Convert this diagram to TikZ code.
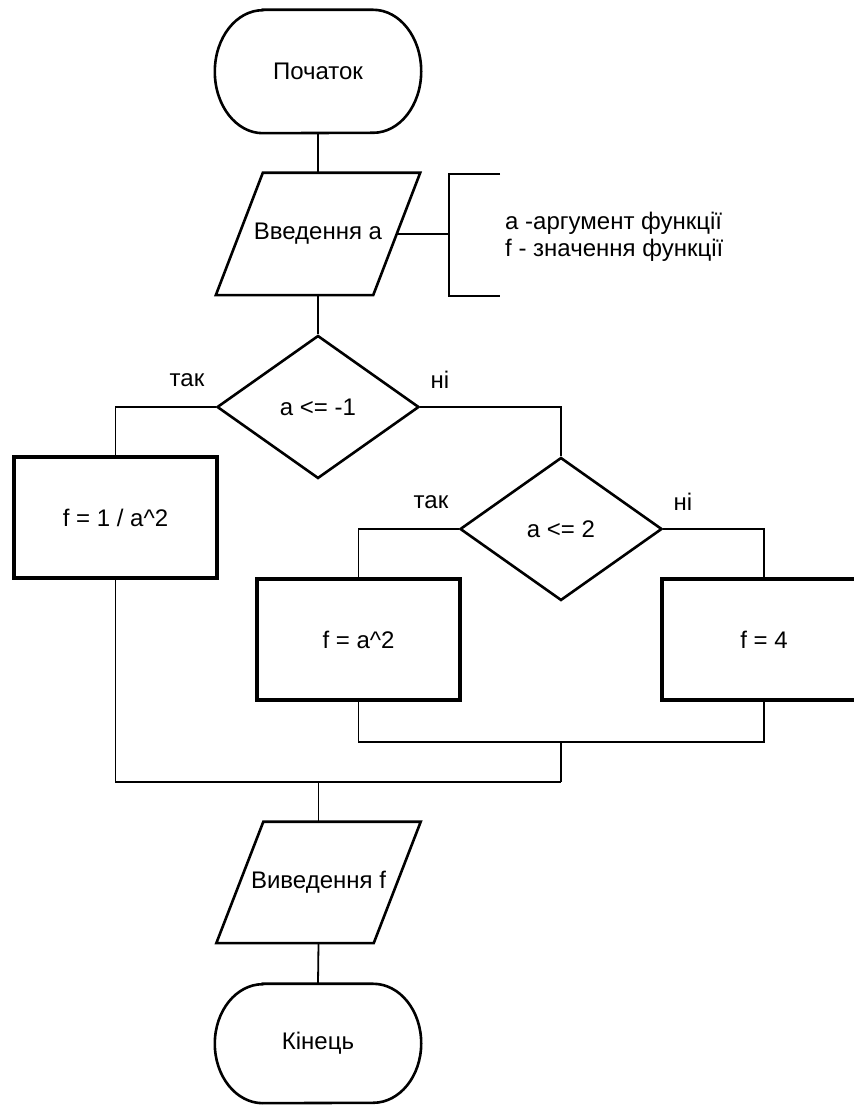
\documentclass[tikz,border=0pt]{standalone}
\usepackage{fontspec}
\setmainfont{Liberation Sans}
\usetikzlibrary{shapes.geometric,calc}
\begin{document}
\begin{tikzpicture}[x=1pt,y=1pt,
  every node/.style={font=\fontsize{24}{27}\selectfont, text=black},
  shapeline/.style={line width=2.6pt, line join=miter},
  boxline/.style={line width=3.6pt},
  conn/.style={line width=1.8pt},
  termbox/.style={minimum width=206pt, minimum height=123pt, inner sep=0pt},
  parabox/.style={minimum width=204pt, minimum height=122pt, inner sep=0pt},
  procbox/.style={draw, boxline, minimum width=203pt, minimum height=121pt, inner sep=0pt},
  decision/.style={draw, diamond, shapeline, minimum width=202pt, minimum height=143pt, inner sep=0pt},
  lbl/.style={inner sep=0pt}
]
\useasboundingbox (0,0) rectangle (854,1106);

% start terminal
\node[termbox] (start) at (318,1034.5) {Початок};
\draw[shapeline] ([xshift=48pt]start.north west) -- ([xshift=-48pt]start.north east)
  arc[start angle=90, end angle=-90, x radius=48pt, y radius=61.5pt]
  -- ([xshift=48pt]start.south west)
  arc[start angle=270, end angle=90, x radius=48pt, y radius=61.5pt] -- cycle;

% input parallelogram
\node[parabox] (in) at (318,872) {Введення а};
\draw[shapeline] ($(in.north west)+(47,0)$) -- (in.north east) -- ($(in.south east)-(47,0)$) -- (in.south west) -- cycle;
\coordinate (inR) at ($(in.east)-(23.5,0)$);

% annotation bracket
\coordinate (brM) at (449,872);
\draw[shapeline] (500,932) -- (449,932) -- (449,810) -- (500,810);
\draw[line width=2.4pt] (inR) -- (brM);
\node[lbl, anchor=west, align=left] (note) at (505,869.5) {а -аргумент функції\\f - значення функції};

% decisions
\node[decision] (d1) at (318,699) {а <= -1};
\node[decision] (d2) at (561,577) {а <= 2};
\node[lbl] (yes1) at (187,726) {так};
\node[lbl] (no1) at (440,726) {ні};
\node[lbl] (yes2) at (431,604) {так};
\node[lbl] (no2) at (683,604) {ні};

% process boxes
\node[procbox] (b1) at (115.5,588.5) {f = 1 / a\^{}2};
\node[procbox] (b2) at (358.5,466.5) {f = a\^{}2};
\node[procbox, minimum width=204pt] (b3) at (764,466.5) {f = 4};

% output parallelogram
\node[parabox, minimum height=121pt] (out) at (318.5,223.5) {Виведення f};
\draw[shapeline] ($(out.north west)+(47,0)$) -- (out.north east) -- ($(out.south east)-(47,0)$) -- (out.south west) -- cycle;

% end terminal
\node[termbox, minimum height=119pt] (stop) at (318,62.5) {Кінець};
\draw[shapeline] ([xshift=48pt]stop.north west) -- ([xshift=-48pt]stop.north east)
  arc[start angle=90, end angle=-90, x radius=48pt, y radius=59.5pt]
  -- ([xshift=48pt]stop.south west)
  arc[start angle=270, end angle=90, x radius=48pt, y radius=59.5pt] -- cycle;

% connectors
\coordinate (m1) at (561,364);
\coordinate (m2) at (561,324);
\draw[conn] (start.south) -- (in.north);
\draw[conn] (in.south) -- (d1.north);
\draw[conn] (d1.west) -| (b1.north);
\draw[conn] (d1.east) -| (d2.north);
\draw[conn] (d2.west) -| (b2.north);
\draw[conn] (d2.east) -| (b3.north);
\draw[conn] (b2.south) |- (m1);
\draw[conn] (b3.south) |- (m1);
\draw[conn] (m1) -- (m2);
\draw[conn] (b1.south) |- (m2);
\draw[conn] (out.north |- m2) -- (out.north);
\draw[conn] (out.south) -- (stop.north);
\end{tikzpicture}
\end{document}
